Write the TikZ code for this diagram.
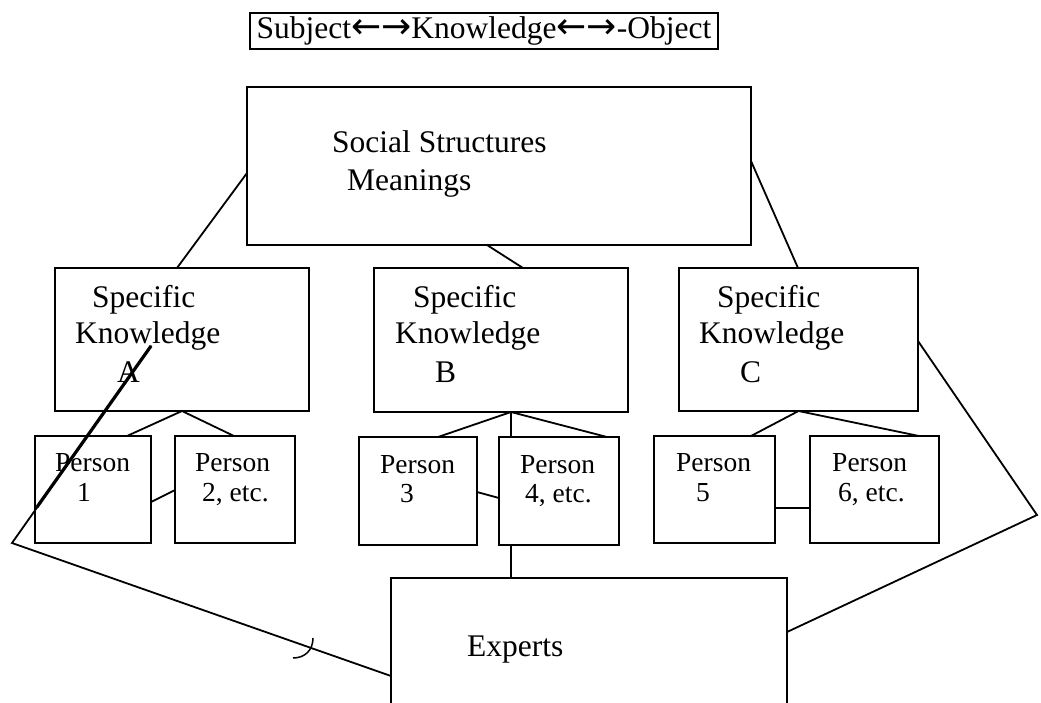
\documentclass[tikz,border=0pt]{standalone}
\usepackage{fontspec}
\setmainfont{Liberation Serif}
\newfontfamily\arrowfont{DejaVu Sans}
\usetikzlibrary{calc}
\newcommand{\arr}[1]{{\arrowfont\fontsize{36}{36}\selectfont #1}}
\begin{document}
\begin{tikzpicture}[x=1pt,y=-1pt,
  box/.style={draw, line width=2.2pt, inner sep=0pt, outer sep=0pt, anchor=north west},
  conn/.style={line width=1.8pt, line cap=round},
  big/.style={inner sep=0pt, anchor=base west, font=\fontsize{31.5}{36}\selectfont},
  small/.style={inner sep=0pt, anchor=base west, font=\fontsize{27.5}{30}\selectfont}]
\useasboundingbox (0,0) rectangle (1041,702);
\fill[white] (0,0) rectangle (1041,702);
\clip (0,0) rectangle (1041,702);
% title
\node[box, minimum width=468pt, minimum height=36pt, font=\fontsize{31.5}{36}\selectfont] (title) at (250,13)
  {Subject\arr{←→}Knowledge\arr{←→}-Object};
% boxes
\node[box, minimum width=504pt, minimum height=158pt] (top) at (247,87) {};
\node[box, minimum width=254pt, minimum height=143pt] (A) at (55,268) {};
\node[box, minimum width=254pt, minimum height=144pt] (B) at (374,268) {};
\node[box, minimum width=239pt, minimum height=143pt] (C) at (679,268) {};
\node[box, minimum width=116pt, minimum height=107pt] (P1) at (35,436) {};
\node[box, minimum width=120pt, minimum height=107pt] (P2) at (175,436) {};
\node[box, minimum width=118pt, minimum height=108pt] (P3) at (359,437) {};
\node[box, minimum width=120pt, minimum height=108pt] (P4) at (499,437) {};
\node[box, minimum width=121pt, minimum height=107pt] (P5) at (654,436) {};
\node[box, minimum width=129pt, minimum height=107pt] (P6) at (810,436) {};
\node[box, minimum width=396pt, minimum height=150pt] (exp) at (391,578) {};
% texts
\node[big] (t1) at (332,152) {Social Structures};
\node[big] (t2) at (347,190) {Meanings};
\node[big] (a1) at (92,307) {Specific};
\node[big] (a2) at (75,343) {Knowledge};
\node[big] (a3) at (117,382) {A};
\node[big] (b1) at (413,307) {Specific};
\node[big] (b2) at (395,343) {Knowledge};
\node[big] (b3) at (435,382) {B};
\node[big] (c1) at (717,307) {Specific};
\node[big] (c2) at (699,343) {Knowledge};
\node[big] (c3) at (740,382) {C};
\node[small] (p1a) at (55,471) {Person};
\node[small] (p1b) at (77,501) {1};
\node[small] (p2a) at (195,471) {Person};
\node[small] (p2b) at (202,501) {2, etc.};
\node[small] (p3a) at (380,473) {Person};
\node[small] (p3b) at (400,502) {3};
\node[small] (p4a) at (520,473) {Person};
\node[small] (p4b) at (525,502) {4, etc.};
\node[small] (p5a) at (676,471) {Person};
\node[small] (p5b) at (696,501) {5};
\node[small] (p6a) at (832,471) {Person};
\node[small] (p6b) at (838,501) {6, etc.};
\node[big] (e1) at (467,656) {Experts};
% coordinates
\coordinate (R) at (1037,515);
\coordinate (L) at (12,543);
\coordinate (LT) at ($(A.north west)+(96,78)$);
\coordinate (LB) at (37,507);
\coordinate (bB) at ($(B.south west)+(137,0)$);
% connectors
\draw[conn] ($(top.north west)+(0,86)$) -- ($(A.north west)+(122,0)$);
\draw[conn] ($(top.south west)+(240,0)$) -- ($(B.north west)+(149,0)$);
\draw[conn] ($(top.north east)+(0,74)$) -- ($(C.north west)+(119,0)$);
\draw[conn] (A.south) -- ($(P1.north west)+(92,0)$);
\draw[conn] (A.south) -- ($(P2.north west)+(59,0)$);
\draw[conn] ($(P1.north east)+(0,66)$) -- ($(P2.north west)+(0,54)$);
\draw[conn] (bB) -- ($(P3.north west)+(79,0)$);
\draw[conn] (bB) -- ($(P4.north west)+(12,0)$);
\draw[conn] (bB) -- ($(P4.north west)+(108,0)$);
\draw[conn] ($(P3.north east)+(0,55)$) -- ($(P4.north west)+(0,61)$);
\draw[conn] (C.south) -- ($(P5.north west)+(97,0)$);
\draw[conn] (C.south) -- ($(P6.north west)+(109,0)$);
\draw[conn] ($(P5.north east)+(0,72)$) -- ($(P6.north west)+(0,72)$);
\draw[conn] ($(P4.south west)+(12,0)$) -- ($(exp.north west)+(120,0)$);
\draw[conn] ($(C.north east)+(0,73)$) -- (R) -- ($(exp.north east)+(0,54)$);
\draw[conn] (LT) -- (L) -- ($(exp.north west)+(0,98)$);
\draw[line width=3.2pt] (LB) -- (LT);
\draw[line width=1.5pt] (293,658) .. controls (305,658) and (313,650) .. (313,638);
\end{tikzpicture}
\end{document}
